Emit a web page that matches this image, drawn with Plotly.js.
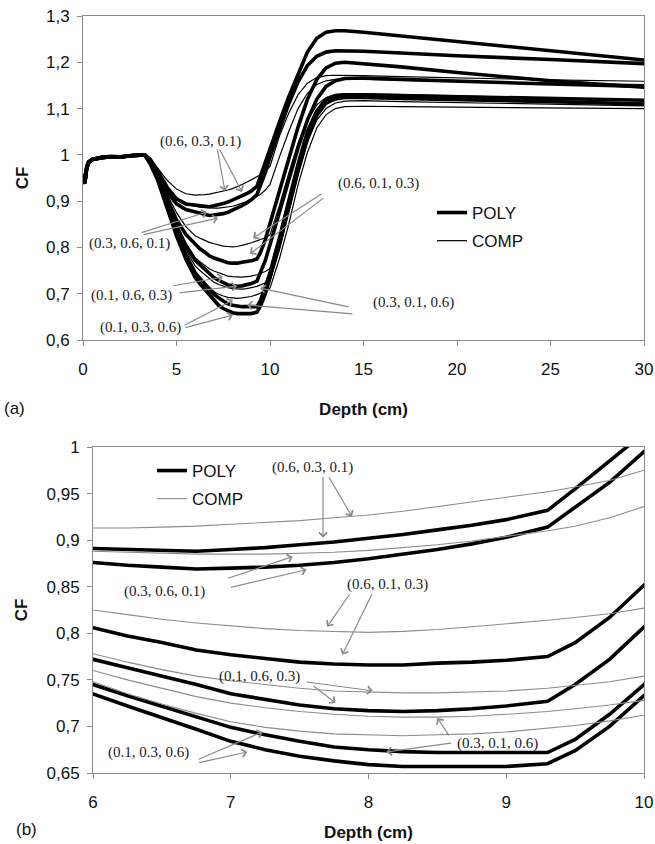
<!DOCTYPE html>
<html>
<head>
<meta charset="utf-8">
<script src="https://cdn.plot.ly/plotly-3.0.1.min.js"></script>
<style>html,body{margin:0;padding:0;background:#fff;}#chart{width:655px;height:844px;}</style>
</head>
<body>
<div id="chart"></div>
<script>
// Depth (cm)
const depth = [0, 0.1, 0.2, 0.3, 0.5, 1, 1.5, 2, 2.5, 3, 3.3, 3.6, 4, 4.5, 5, 5.5, 6, 6.25, 6.5, 6.75, 7, 7.25, 7.5, 7.75, 8, 8.25, 8.5, 8.75, 9, 9.3, 9.5, 9.75, 10, 10.5, 11, 11.5, 12, 12.5, 13, 13.5, 14, 15, 17, 20, 25, 30];

// Composition labels
const compositions = ['(0.6, 0.3, 0.1)', '(0.3, 0.6, 0.1)', '(0.6, 0.1, 0.3)', '(0.1, 0.6, 0.3)', '(0.3, 0.1, 0.6)', '(0.1, 0.3, 0.6)'];

// POLY series (CF)
const polyA = [0.955, 0.94, 0.975, 0.985, 0.99, 0.995, 0.997, 0.996, 0.998, 1.0, 1.0, 0.99, 0.965, 0.93, 0.905, 0.894, 0.891, 0.890, 0.889, 0.888, 0.890, 0.892, 0.895, 0.898, 0.902, 0.906, 0.911, 0.916, 0.922, 0.932, 0.955, 0.985, 1.015, 1.07, 1.125, 1.175, 1.222, 1.252, 1.265, 1.268, 1.268, 1.265, 1.257, 1.245, 1.225, 1.205];
const polyB = [0.95, 0.945, 0.972, 0.984, 0.99, 0.994, 0.996, 0.995, 0.998, 1.0, 1.0, 0.988, 0.96, 0.92, 0.894, 0.882, 0.876, 0.873, 0.871, 0.869, 0.870, 0.871, 0.873, 0.876, 0.880, 0.885, 0.890, 0.896, 0.903, 0.914, 0.935, 0.962, 0.995, 1.055, 1.11, 1.158, 1.193, 1.213, 1.222, 1.225, 1.225, 1.224, 1.22, 1.214, 1.206, 1.197];
const polyC = [0.952, 0.942, 0.974, 0.985, 0.99, 0.995, 0.996, 0.996, 0.998, 1.0, 1.0, 0.985, 0.955, 0.905, 0.86, 0.828, 0.806, 0.797, 0.790, 0.782, 0.777, 0.773, 0.769, 0.767, 0.766, 0.766, 0.768, 0.769, 0.771, 0.775, 0.79, 0.817, 0.852, 0.92, 0.99, 1.06, 1.12, 1.163, 1.188, 1.198, 1.2, 1.197, 1.19, 1.178, 1.16, 1.146];
const polyD = [0.95, 0.94, 0.973, 0.984, 0.99, 0.994, 0.996, 0.995, 0.998, 1.0, 1.0, 0.983, 0.95, 0.895, 0.845, 0.803, 0.772, 0.763, 0.754, 0.745, 0.735, 0.729, 0.723, 0.719, 0.717, 0.716, 0.717, 0.719, 0.722, 0.727, 0.745, 0.772, 0.806, 0.875, 0.945, 1.015, 1.075, 1.12, 1.148, 1.16, 1.165, 1.166, 1.163, 1.159, 1.153, 1.148];
const polyE = [0.948, 0.94, 0.972, 0.983, 0.99, 0.994, 0.996, 0.995, 0.998, 1.0, 1.0, 0.982, 0.948, 0.89, 0.833, 0.785, 0.745, 0.733, 0.722, 0.71, 0.699, 0.691, 0.684, 0.678, 0.675, 0.673, 0.672, 0.672, 0.672, 0.672, 0.686, 0.713, 0.745, 0.82, 0.9, 0.98, 1.05, 1.095, 1.12, 1.128, 1.13, 1.13, 1.128, 1.126, 1.122, 1.118];
const polyF = [0.945, 0.938, 0.97, 0.982, 0.99, 0.994, 0.996, 0.995, 0.998, 1.0, 1.0, 0.98, 0.945, 0.885, 0.825, 0.775, 0.735, 0.722, 0.71, 0.697, 0.684, 0.675, 0.668, 0.663, 0.659, 0.657, 0.657, 0.657, 0.657, 0.66, 0.674, 0.70, 0.733, 0.805, 0.885, 0.965, 1.035, 1.085, 1.112, 1.121, 1.124, 1.124, 1.122, 1.12, 1.115, 1.11];

// COMP series (CF)
const compA = [0.96, 0.945, 0.978, 0.987, 0.991, 0.996, 0.998, 0.997, 0.999, 1.0, 1.0, 0.992, 0.972, 0.945, 0.926, 0.916, 0.913, 0.913, 0.914, 0.915, 0.917, 0.919, 0.921, 0.924, 0.927, 0.931, 0.936, 0.941, 0.946, 0.952, 0.957, 0.964, 0.975, 1.04, 1.09, 1.13, 1.155, 1.167, 1.171, 1.172, 1.172, 1.171, 1.169, 1.166, 1.162, 1.159];
const compB = [0.958, 0.948, 0.976, 0.986, 0.991, 0.995, 0.997, 0.996, 0.999, 1.0, 1.0, 0.99, 0.965, 0.93, 0.905, 0.893, 0.888, 0.887, 0.886, 0.885, 0.885, 0.885, 0.886, 0.887, 0.889, 0.892, 0.895, 0.899, 0.904, 0.910, 0.915, 0.924, 0.936, 0.995, 1.05, 1.1, 1.133, 1.152, 1.16, 1.163, 1.164, 1.163, 1.161, 1.158, 1.155, 1.152];
const compC = [0.957, 0.947, 0.977, 0.986, 0.991, 0.995, 0.997, 0.996, 0.999, 1.0, 1.0, 0.987, 0.96, 0.915, 0.875, 0.845, 0.825, 0.82, 0.815, 0.811, 0.808, 0.805, 0.803, 0.802, 0.801, 0.802, 0.804, 0.807, 0.81, 0.814, 0.817, 0.821, 0.827, 0.89, 0.96, 1.025, 1.075, 1.108, 1.124, 1.13, 1.132, 1.132, 1.13, 1.127, 1.122, 1.118];
const compD = [0.956, 0.946, 0.976, 0.986, 0.991, 0.995, 0.997, 0.996, 0.999, 1.0, 1.0, 0.985, 0.955, 0.9, 0.852, 0.81, 0.778, 0.769, 0.761, 0.754, 0.749, 0.745, 0.741, 0.738, 0.737, 0.736, 0.736, 0.737, 0.738, 0.741, 0.744, 0.748, 0.754, 0.825, 0.905, 0.985, 1.048, 1.09, 1.113, 1.123, 1.126, 1.126, 1.124, 1.121, 1.116, 1.112];
const compE = [0.955, 0.945, 0.975, 0.985, 0.99, 0.995, 0.997, 0.996, 0.998, 1.0, 1.0, 0.983, 0.95, 0.893, 0.84, 0.795, 0.76, 0.75, 0.741, 0.732, 0.725, 0.72, 0.716, 0.713, 0.711, 0.71, 0.71, 0.711, 0.713, 0.716, 0.719, 0.723, 0.728, 0.795, 0.875, 0.958, 1.027, 1.075, 1.1, 1.112, 1.116, 1.117, 1.115, 1.113, 1.109, 1.106];
const compF = [0.954, 0.944, 0.975, 0.985, 0.99, 0.995, 0.997, 0.996, 0.998, 1.0, 1.0, 0.982, 0.948, 0.888, 0.83, 0.785, 0.748, 0.735, 0.724, 0.714, 0.705, 0.699, 0.695, 0.692, 0.691, 0.69, 0.691, 0.692, 0.694, 0.698, 0.701, 0.706, 0.712, 0.775, 0.85, 0.935, 1.005, 1.058, 1.087, 1.1, 1.104, 1.105, 1.104, 1.103, 1.101, 1.10];

// Tick labels
const xTicksA = [0, 5, 10, 15, 20, 25, 30];
const yTicksA = [0.6, 0.7, 0.8, 0.9, 1.0, 1.1, 1.2, 1.3];
const yTextA = ['0,6', '0,7', '0,8', '0,9', '1', '1,1', '1,2', '1,3'];
const xTicksB = [6, 7, 8, 9, 10];
const yTicksB = [0.65, 0.7, 0.75, 0.8, 0.85, 0.9, 0.95, 1.0];
const yTextB = ['0,65', '0,7', '0,75', '0,8', '0,85', '0,9', '0,95', '1'];

const polys = [polyA, polyB, polyC, polyD, polyE, polyF];
const comps = [compA, compB, compC, compD, compE, compF];

const SANS = 'Liberation Sans, Arial, sans-serif';
const SERIF = 'Liberation Serif, Times New Roman, serif';

const traces = [];
// Top panel (a)
polys.forEach((y, i) => traces.push({
  x: depth, y: y, xaxis: 'x', yaxis: 'y', type: 'scatter', mode: 'lines',
  name: 'POLY', legend: 'legend', legendgroup: 'pa', showlegend: i === 0,
  line: {color: '#000', width: 3.6}, hoverinfo: 'skip'
}));
comps.forEach((y, i) => traces.push({
  x: depth, y: y, xaxis: 'x', yaxis: 'y', type: 'scatter', mode: 'lines',
  name: 'COMP', legend: 'legend', legendgroup: 'ca', showlegend: i === 0,
  line: {color: '#000', width: 1.2}, hoverinfo: 'skip'
}));
// Bottom panel (b)
polys.forEach((y, i) => traces.push({
  x: depth, y: y, xaxis: 'x2', yaxis: 'y2', type: 'scatter', mode: 'lines',
  name: 'POLY', legend: 'legend2', legendgroup: 'pb', showlegend: i === 0,
  line: {color: '#000', width: 3.6}, hoverinfo: 'skip'
}));
comps.forEach((y, i) => traces.push({
  x: depth, y: y, xaxis: 'x2', yaxis: 'y2', type: 'scatter', mode: 'lines',
  name: 'COMP', legend: 'legend2', legendgroup: 'cb', showlegend: i === 0,
  line: {color: '#8c8c8c', width: 1.1}, hoverinfo: 'skip'
}));

const axisCommon = {
  showgrid: false, zeroline: false, showline: true, linecolor: '#8a8a8a', linewidth: 1,
  mirror: true, ticks: 'outside', ticklen: 5, tickcolor: '#8a8a8a', tickwidth: 1,
  tickfont: {family: SANS, size: 17, color: '#111'}, automargin: false
};

// Annotation label positions and arrows [text, x, y, arrows:[[tailX, tailY, headX, headY], ...]]
const labelsA = [
  [compositions[0], 6.26, 1.028, [[7.17, 1.015, 7.59, 0.922], [7.27, 1.015, 8.50, 0.920]]],
  [compositions[1], 2.51, 0.8095, [[3.05, 0.831, 6.63, 0.8765], [3.16, 0.827, 7.22, 0.8635]]],
  [compositions[2], 15.78, 0.939, [[12.83, 0.9175, 9.09, 0.820], [12.94, 0.909, 8.93, 0.786]]],
  [compositions[3], 2.57, 0.697, [[4.76, 0.7166, 7.49, 0.736], [5.08, 0.7015, 8.24, 0.7166]]],
  [compositions[5], 3.05, 0.628, [[5.35, 0.630, 8.02, 0.6864], [5.40, 0.626, 8.02, 0.654]]],
  [compositions[4], 17.65, 0.680, [[14.28, 0.671, 9.47, 0.7123], [14.49, 0.656, 8.77, 0.6756]]]
];
const labelsB = [
  [compositions[0], 7.59, 0.978, [[7.67, 0.9694, 7.67, 0.9027], [7.706, 0.9694, 7.88, 0.9253]]],
  [compositions[1], 6.52, 0.8446, [[6.97, 0.8586, 7.45, 0.8823], [6.99, 0.849, 7.55, 0.8683]]],
  [compositions[2], 8.14, 0.852, [[7.87, 0.8435, 7.70, 0.807], [8.03, 0.8435, 7.81, 0.7769]]],
  [compositions[3], 7.21, 0.7532, [[7.54, 0.7479, 8.03, 0.7382], [7.59, 0.7446, 7.76, 0.7253]]],
  [compositions[5], 6.40, 0.6715, [[6.755, 0.664, 7.23, 0.694], [6.76, 0.6608, 7.12, 0.6726]]],
  [compositions[4], 8.94, 0.6812, [[8.61, 0.6823, 8.13, 0.6726], [8.59, 0.6887, 8.50, 0.7091]]]
];

const annotations = [];
function addLabels(list, xr, yr) {
  list.forEach(([t, x, y, arrows]) => {
    annotations.push({
      text: t, x: x, y: y, xref: xr, yref: yr, showarrow: false,
      xanchor: 'center', yanchor: 'middle',
      font: {family: SERIF, size: 15, color: '#1a1a1a'}
    });
    arrows.forEach(([tx, ty, hx, hy]) => {
      annotations.push({
        text: '', x: hx, y: hy, ax: tx, ay: ty, xref: xr, yref: yr, axref: xr, ayref: yr,
        showarrow: true, arrowhead: 4, arrowsize: 1.3, arrowwidth: 1.2, arrowcolor: '#8a8a8a',
        standoff: 0, startstandoff: 0
      });
    });
  });
}
addLabels(labelsA, 'x', 'y');
addLabels(labelsB, 'x2', 'y2');

annotations.push({text: '(a)', xref: 'paper', yref: 'paper', x: 14 / 655, y: 1 - 408 / 844,
  showarrow: false, xanchor: 'center', yanchor: 'middle', font: {family: SANS, size: 17, color: '#111'}});
annotations.push({text: '(b)', xref: 'paper', yref: 'paper', x: 26 / 655, y: 1 - 829 / 844,
  showarrow: false, xanchor: 'center', yanchor: 'middle', font: {family: SANS, size: 17, color: '#111'}});

const titleFont = {family: SANS, size: 17, color: '#111', weight: 'bold'};

const layout = {
  width: 655, height: 844,
  margin: {l: 0, r: 0, t: 0, b: 0},
  paper_bgcolor: '#fff', plot_bgcolor: '#fff',
  showlegend: true,
  xaxis: Object.assign({}, axisCommon, {
    domain: [83 / 655, 644 / 655], anchor: 'y', range: [0, 30],
    tickvals: xTicksA, ticktext: xTicksA.map(String), ticklabelstandoff: 9,
    title: {text: 'Depth (cm)', font: titleFont, standoff: 24}
  }),
  yaxis: Object.assign({}, axisCommon, {
    domain: [1 - 340 / 844, 1 - 16 / 844], anchor: 'x', range: [0.6, 1.3],
    tickvals: yTicksA, ticktext: yTextA, ticklabelstandoff: 4,
    title: {text: 'CF', font: titleFont, standoff: 13}
  }),
  xaxis2: Object.assign({}, axisCommon, {
    domain: [93 / 655, 644 / 655], anchor: 'y2', range: [6, 10],
    tickvals: xTicksB, ticktext: xTicksB.map(String), ticklabelstandoff: 9,
    title: {text: 'Depth (cm)', font: titleFont, standoff: 14}
  }),
  yaxis2: Object.assign({}, axisCommon, {
    domain: [1 - 773 / 844, 1 - 447 / 844], anchor: 'x2', range: [0.65, 1.0],
    tickvals: yTicksB, ticktext: yTextB, ticklabelstandoff: 4,
    title: {text: 'CF', font: titleFont, standoff: 14}
  }),
  legend: {
    x: 432 / 655, y: 1 - 195 / 844, xanchor: 'left', yanchor: 'top',
    bgcolor: 'rgba(0,0,0,0)', borderwidth: 0,
    font: {family: SANS, size: 17, color: '#111'},
    traceorder: 'grouped', tracegroupgap: 3
  },
  legend2: {
    x: 152 / 655, y: 1 - 453 / 844, xanchor: 'left', yanchor: 'top',
    bgcolor: 'rgba(0,0,0,0)', borderwidth: 0,
    font: {family: SANS, size: 17, color: '#111'},
    traceorder: 'grouped', tracegroupgap: 3
  },
  annotations: annotations
};

Plotly.newPlot('chart', traces, layout, {staticPlot: true, displayModeBar: false});
</script>
</body>
</html>
